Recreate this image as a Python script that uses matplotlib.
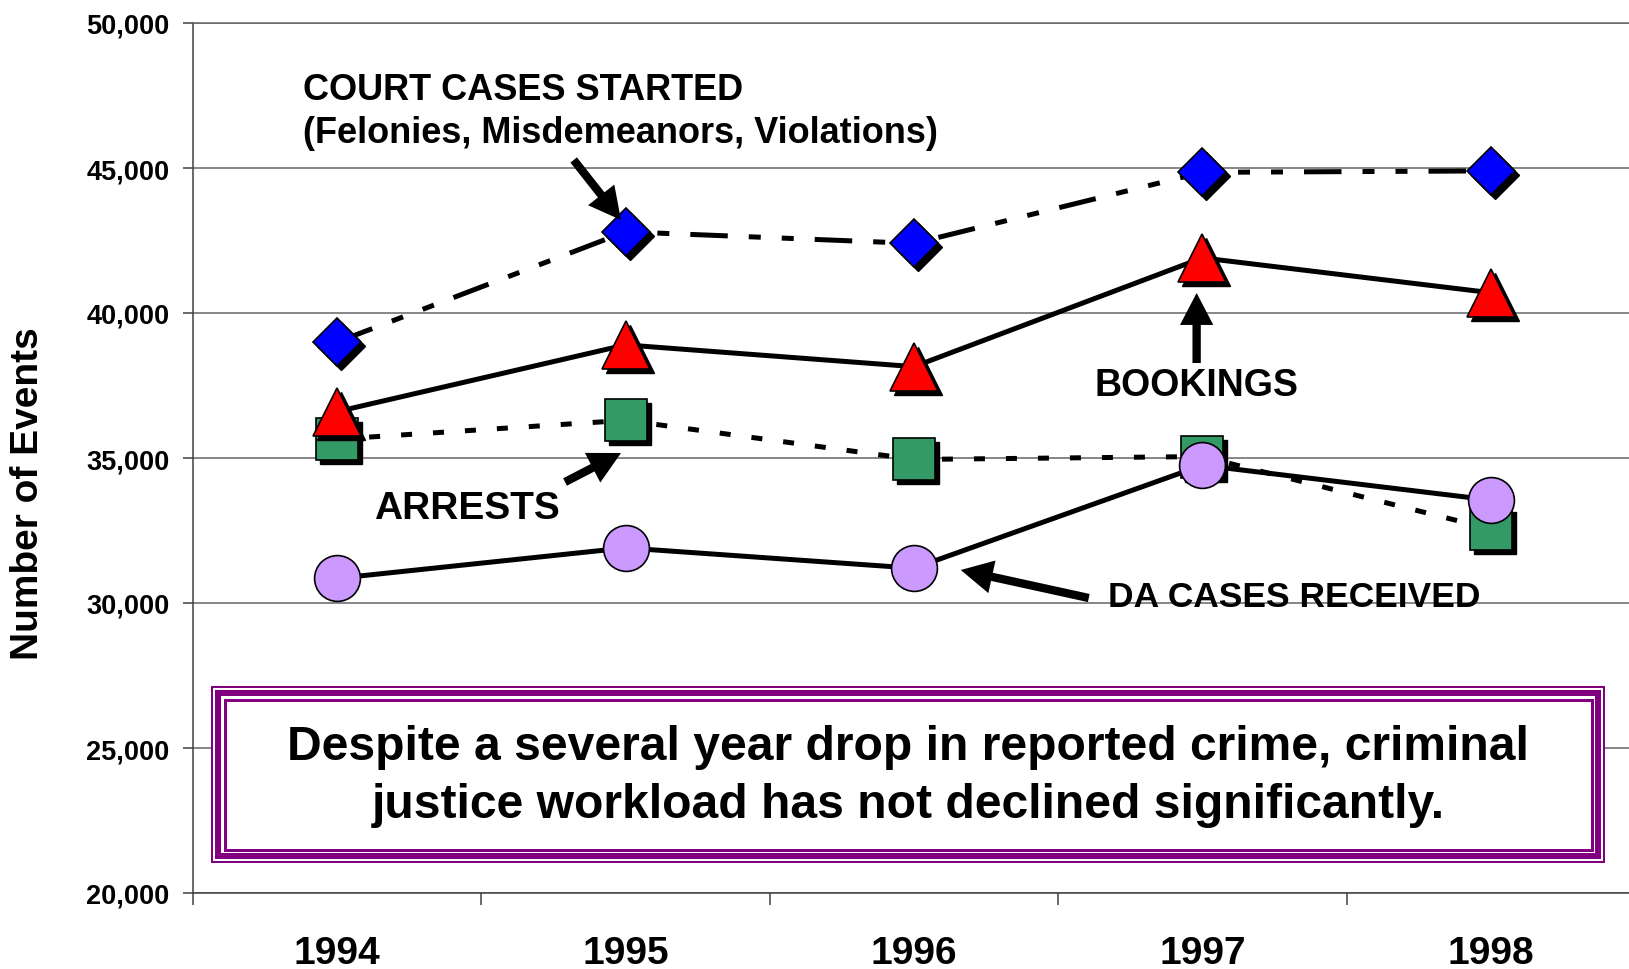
import numpy as np
import matplotlib
matplotlib.use('Agg')
import matplotlib.pyplot as plt
from matplotlib.patches import Rectangle
from matplotlib.transforms import offset_copy
from matplotlib.ticker import FuncFormatter, MultipleLocator

plt.rcParams['font.family'] = ['Liberation Sans', 'DejaVu Sans']
plt.rcParams['font.weight'] = 'bold'

years = ['1994', '1995', '1996', '1997', '1998']
court_cases = [39000, 42800, 42400, 44850, 44900]
bookings = [36600, 38900, 38150, 41900, 40700]
arrests = [35650, 36300, 34950, 35050, 32550]
da_cases = [30850, 31900, 31200, 34750, 33550]

W, H = 1629, 970
fig = plt.figure(figsize=(W / 100, H / 100), dpi=100)
ax = fig.add_axes([193 / W, (H - 894) / H, (1635 - 193) / W, 870 / H])

x = np.arange(len(years))
shadow = offset_copy(ax.transData, fig=fig, x=4, y=-4, units='dots')

# values, line style, marker, size, colour, drop shadow
series = [
    (arrests, (0, (2.2, 4.2)), 's', 30, '#339966', True),
    (bookings, '-', '^', 34, '#ff0000', True),
    (da_cases, '-', 'o', 33, '#cc99ff', False),
    (court_cases, (0, (7.5, 4.2, 2.4, 4.2, 2.4, 4.2)), 'D', 24, '#0000ff', True),
]
for i, (vals, ls, mk, ms, col, shad) in enumerate(series):
    z = 3 + i
    ax.plot(x, vals, color='black', lw=3.6, ls=ls, zorder=z, solid_capstyle='butt', dash_capstyle='butt')
    if shad:
        ax.plot(x, vals, ls='none', marker=mk, ms=ms, mfc='black', mec='black', mew=1,
                transform=shadow, zorder=z + 0.1)
    ax.plot(x, vals, ls='none', marker=mk, ms=ms, mfc=col, mec='black', mew=1.2, zorder=z + 0.2)

ax.set_xlim(-0.5, 4.5)
ax.set_ylim(20000, 50000)
ax.yaxis.set_major_locator(MultipleLocator(5000))
ax.yaxis.set_major_formatter(FuncFormatter(lambda v, p: f'{int(v):,}'))
ax.grid(axis='y', color='#666666', lw=1.1, zorder=1)
ax.set_xticks(x)
ax.set_xticklabels(years)
ax.set_xticks(np.arange(-0.5, 5, 1), minor=True)
ax.tick_params(axis='x', which='major', length=0, pad=30, labelsize=28)
ax.tick_params(axis='x', which='minor', length=8.6, width=1.1, color='#404040', direction='out')
ax.tick_params(axis='y', length=7, width=1.1, color='#404040', pad=10, labelsize=19.5)
ax.spines['right'].set_visible(False)
ax.spines['top'].set_color('#666666')
ax.spines['top'].set_linewidth(1.1)
for s in ['left', 'bottom']:
    ax.spines[s].set_color('#404040')
    ax.spines[s].set_linewidth(1.1)

fig.text(28 / W, 1 - 494 / H, 'Number of Events', rotation=90, ha='center', va='center', fontsize=28)

# annotations
ax.text(-0.119, 47724, 'COURT CASES STARTED', ha='left', va='center', fontsize=26, zorder=10)
ax.text(-0.119, 46241, '(Felonies, Misdemeanors, Violations)', ha='left', va='center', fontsize=26, zorder=10)
ax.text(2.98, 37517, 'BOOKINGS', ha='center', va='center', fontsize=27, zorder=10)
ax.text(0.127, 33276, 'ARRESTS', ha='left', va='center', fontsize=28, zorder=10)
ax.text(2.672, 30241, 'DA CASES RECEIVED', ha='left', va='center', fontsize=25.5, zorder=10)

arrows = [((0.82, 45276), (0.984, 43207)),
          ((2.98, 38276), (2.98, 40690)),
          ((0.79, 34172), (0.984, 35172)),
          ((2.606, 30172), (2.162, 31138))]
for tail, tip in arrows:
    ax.annotate('', xy=tip, xytext=tail, zorder=10,
                arrowprops=dict(arrowstyle='simple,head_length=2.3,head_width=2.4,tail_width=0.6',
                                mutation_scale=10, color='black', lw=0, shrinkA=0, shrinkB=0))

# callout box with triple purple border
purple = '#800080'
x0, y0, x1, y1 = 211, 687, 1605, 864


def frame(inset, lw, fill=False):
    r = Rectangle(((x0 + inset) / W, 1 - (y1 - inset) / H),
                  (x1 - x0 - 2 * inset) / W, (y1 - y0 - 2 * inset) / H,
                  transform=fig.transFigure, fill=fill, facecolor='white',
                  edgecolor=purple, lw=lw * 0.72, zorder=20)
    fig.add_artist(r)


frame(1, 2, fill=True)
frame(7, 6)
frame(13.5, 3)
fig.text(908 / W, 1 - 748 / H, 'Despite a several year drop in reported crime, criminal',
         ha='center', va='center', fontsize=34.6, zorder=21)
fig.text(908 / W, 1 - 805 / H, 'justice workload has not declined significantly.',
         ha='center', va='center', fontsize=34.6, zorder=21)

fig.savefig('out.png', dpi=100)
